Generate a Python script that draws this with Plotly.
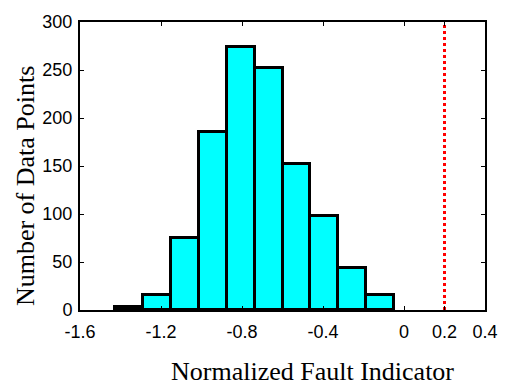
import plotly.graph_objects as go

# Histogram data (bin centers and counts)
bin_centers = [-1.3576, -1.2198, -1.0820, -0.9442, -0.8064, -0.6686, -0.5308, -0.3930, -0.2552, -0.1174]
counts = [3, 16, 75, 185, 274, 252, 152, 98, 44, 16]
bin_width = 0.1378

threshold_x = [0.2, 0.2]
threshold_y = [0, 300]

x_tickvals = [-1.6, -1.2, -0.8, -0.4, 0, 0.2, 0.4]
x_ticktext = ["-1.6", "-1.2", "-0.8", "-0.4", "0", "0.2", "0.4"]
y_tickvals = [0, 50, 100, 150, 200, 250, 300]

fig = go.Figure()
fig.add_trace(go.Bar(
    x=bin_centers, y=counts, width=bin_width,
    marker=dict(color="#00FFFF", line=dict(color="black", width=3)),
    showlegend=False,
))
fig.add_trace(go.Scatter(
    x=threshold_x, y=threshold_y, mode="lines",
    line=dict(color="#FF0000", width=3, dash="dot"),
    showlegend=False,
))

axis_common = dict(
    showline=True, linecolor="black", linewidth=2, mirror="ticks",
    ticks="inside", ticklen=4, tickcolor="black", tickwidth=1,
    showgrid=False, zeroline=False,
    tickfont=dict(family="Liberation Sans, Arial", size=18, color="black"),
)
fig.update_xaxes(range=[-1.6, 0.4], tickvals=x_tickvals, ticktext=x_ticktext,
                 ticklabelstandoff=4, **axis_common)
fig.update_yaxes(range=[0, 300], tickvals=y_tickvals, ticklabelstandoff=2, **axis_common)

fig.update_layout(
    width=510, height=383,
    margin=dict(l=80, r=15, t=18, b=73),
    plot_bgcolor="white", paper_bgcolor="white",
    bargap=0,
    annotations=[
        dict(text="Normalized Fault Indicator", xref="paper", yref="paper",
             x=(318 - 80) / 415, y=(310 - 372) / 292, xanchor="center", yanchor="middle",
             showarrow=False, font=dict(family="Liberation Serif, Times New Roman", size=26, color="black")),
        dict(text="Number of Data Points", xref="paper", yref="paper",
             x=(23.5 - 80) / 415, y=(310 - 184.5) / 292, xanchor="center", yanchor="middle",
             textangle=-90,
             showarrow=False, font=dict(family="Liberation Serif, Times New Roman", size=26, color="black")),
    ],
)

fig.write_html("out.html")
